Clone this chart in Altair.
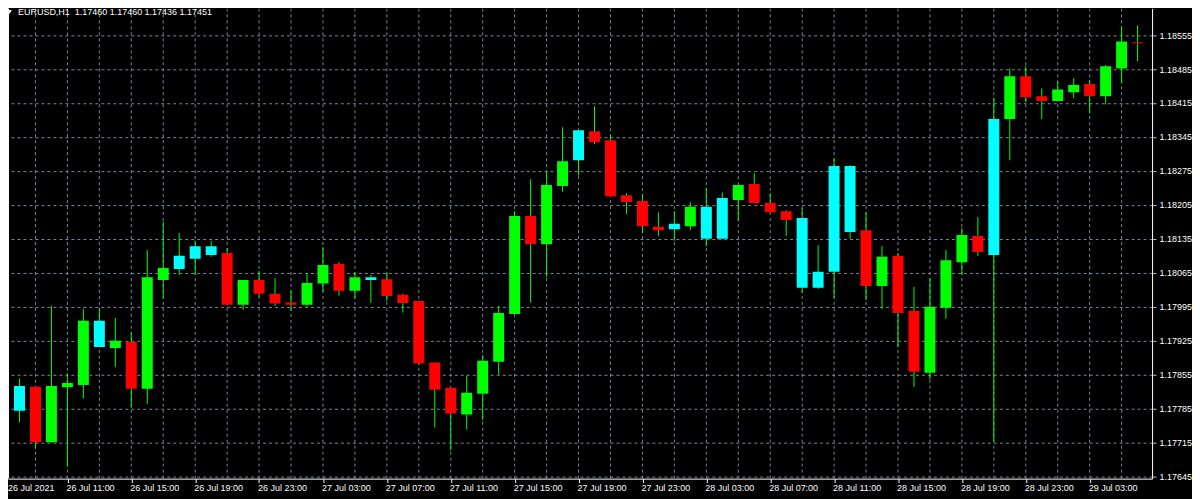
import altair as alt
import pandas as pd

# ---- candle data (EURUSD H1), one entry per hourly bar, 26 Jul 07:00 .. 29 Jul 06:00 ----
kinds = ["down", "alt", "down", "up", "up", "up", "alt", "up", "down", "up",
         "up", "alt", "alt", "alt", "down", "up", "down", "down", "down", "up",
         "up", "down", "up", "alt", "down", "down", "down", "down", "down", "up",
         "up", "up", "up", "down", "up", "up", "alt", "down", "down", "down",
         "down", "down", "alt", "up", "alt", "alt", "up", "down", "down", "down",
         "alt", "alt", "alt", "alt", "down", "up", "down", "down", "up", "up",
         "up", "down", "alt", "up", "down", "down", "up", "up", "down", "up",
         "up", "down"]
opens = [1.17785, 1.17781, 1.17830, 1.17716, 1.17829, 1.17834, 1.17966, 1.17910, 1.17923, 1.17826,
         1.18050, 1.18073, 1.18094, 1.18120, 1.18106, 1.17999, 1.18050, 1.18022, 1.18004, 1.17999,
         1.18043, 1.18083, 1.18028, 1.18056, 1.18052, 1.18020, 1.18007, 1.17880, 1.17828, 1.17773,
         1.17816, 1.17882, 1.17980, 1.18182, 1.18124, 1.18244, 1.18297, 1.18357, 1.18338, 1.18225,
         1.18213, 1.18160, 1.18155, 1.18161, 1.18201, 1.18135, 1.18215, 1.18248, 1.18209, 1.18192,
         1.18178, 1.18034, 1.18067, 1.18285, 1.18153, 1.18038, 1.18100, 1.17987, 1.17859, 1.17993,
         1.18087, 1.18141, 1.18102, 1.18382, 1.18470, 1.18429, 1.18419, 1.18437, 1.18454, 1.18429,
         1.18486, 1.18540]
highs = [1.17801, 1.17847, 1.17830, 1.17997, 1.17858, 1.17991, 1.17992, 1.17972, 1.17942, 1.18112,
         1.18170, 1.18147, 1.18131, 1.18131, 1.18116, 1.18050, 1.18069, 1.18054, 1.18028, 1.18064,
         1.18118, 1.18087, 1.18066, 1.18061, 1.18064, 1.18022, 1.18007, 1.17880, 1.17828, 1.17853,
         1.17895, 1.17997, 1.18192, 1.18258, 1.18273, 1.18365, 1.18359, 1.18408, 1.18350, 1.18229,
         1.18227, 1.18190, 1.18192, 1.18211, 1.18240, 1.18231, 1.18246, 1.18270, 1.18229, 1.18194,
         1.18198, 1.18122, 1.18301, 1.18287, 1.18190, 1.18120, 1.18106, 1.18036, 1.18054, 1.18112,
         1.18157, 1.18180, 1.18425, 1.18486, 1.18491, 1.18445, 1.18460, 1.18466, 1.18462, 1.18493,
         1.18573, 1.18575]
lows = [1.17760, 1.17757, 1.17703, 1.17716, 1.17666, 1.17806, 1.17912, 1.17871, 1.17787, 1.17795,
        1.18012, 1.18061, 1.18061, 1.18098, 1.17999, 1.17989, 1.18016, 1.17997, 1.17987, 1.17995,
        1.18026, 1.18018, 1.18012, 1.18003, 1.18007, 1.17983, 1.17875, 1.17746, 1.17699, 1.17742,
        1.17762, 1.17855, 1.17980, 1.18004, 1.18057, 1.18232, 1.18266, 1.18330, 1.18223, 1.18186,
        1.18147, 1.18141, 1.18131, 1.18153, 1.18120, 1.18135, 1.18172, 1.18209, 1.18190, 1.18141,
        1.18024, 1.18032, 1.18013, 1.18135, 1.18009, 1.17991, 1.17912, 1.17830, 1.17845, 1.17970,
        1.18061, 1.18100, 1.17717, 1.18297, 1.18417, 1.18382, 1.18419, 1.18425, 1.18394, 1.18412,
        1.18456, 1.18501]
closes = [1.17781, 1.17832, 1.17716, 1.17832, 1.17838, 1.17966, 1.17912, 1.17925, 1.17826, 1.18056,
          1.18075, 1.18100, 1.18120, 1.18102, 1.17999, 1.18050, 1.18022, 1.18002, 1.17999, 1.18044,
          1.18081, 1.18028, 1.18056, 1.18050, 1.18017, 1.18003, 1.17878, 1.17824, 1.17775, 1.17818,
          1.17884, 1.17982, 1.18182, 1.18124, 1.18246, 1.18295, 1.18359, 1.18334, 1.18223, 1.18211,
          1.18161, 1.18153, 1.18166, 1.18201, 1.18135, 1.18219, 1.18246, 1.18209, 1.18190, 1.18174,
          1.18034, 1.18067, 1.18285, 1.18149, 1.18038, 1.18098, 1.17982, 1.17861, 1.17995, 1.18091,
          1.18143, 1.18108, 1.18382, 1.18470, 1.18427, 1.18419, 1.18443, 1.18452, 1.18429, 1.18491,
          1.18542, 1.18538]

# ---- axis labels ----
x_label_pos = [0, 4, 8, 12, 16, 20, 24, 28, 32, 36, 40, 44, 48, 52, 56, 60, 64, 68]
x_labels = ["26 Jul 2021", "26 Jul 11:00", "26 Jul 15:00", "26 Jul 19:00", "26 Jul 23:00",
            "27 Jul 03:00", "27 Jul 07:00", "27 Jul 11:00", "27 Jul 15:00", "27 Jul 19:00",
            "27 Jul 23:00", "28 Jul 03:00", "28 Jul 07:00", "28 Jul 11:00", "28 Jul 15:00",
            "28 Jul 19:00", "28 Jul 23:00", "29 Jul 03:00"]
y_ticks = [1.17645, 1.17715, 1.17785, 1.17855, 1.17925, 1.17995, 1.18065,
           1.18135, 1.18205, 1.18275, 1.18345, 1.18415, 1.18485, 1.18555]
grid_k = list(range(0, 73, 2))
header = "EURUSD,H1\u00a0\u00a01.17460 1.17460 1.17436 1.17451"

# ---- layout ----
W, H = 1146, 471
X_DOM = [0.28125, 71.90625]
Y_DOM = [1.1764089, 1.1860994]
FONT = "Liberation Sans"
GRID = "#778899"

df = pd.DataFrame({"k": list(range(len(opens))), "open": opens, "high": highs,
                   "low": lows, "close": closes, "kind": kinds})

xs = alt.Scale(domain=X_DOM, nice=False, zero=False, padding=0)
ys = alt.Scale(domain=Y_DOM, nice=False, zero=False, padding=0)

x_axis = alt.Axis(values=x_label_pos, labels=False, ticks=True, tickColor="white",
                  tickSize=4, domain=True, domainColor="white", domainWidth=1,
                  grid=False, title=None)
y_axis = alt.Axis(orient="right", values=y_ticks, format=".5f", title=None,
                  labelFont=FONT, labelFontSize=9, labelColor="white",
                  labelPadding=3, labelOverlap=False, labelFlush=False,
                  labelSeparation=0, labelBound=False,
                  tickColor="#b8b8b8", tickSize=4, domain=True,
                  domainColor="white", domainWidth=1, grid=True,
                  gridColor=GRID, gridDash=[3, 3], gridWidth=1)

vgrid = alt.Chart(pd.DataFrame({"k": grid_k})).mark_rule(
    color=GRID, strokeDash=[3, 3], strokeWidth=1, clip=True
).encode(x=alt.X("k:Q", scale=xs, axis=x_axis))

wicks = alt.Chart(df).mark_rule(color="#00FF00", strokeWidth=1, clip=True).encode(
    x=alt.X("k:Q", scale=xs, axis=x_axis),
    y=alt.Y("low:Q", scale=ys, axis=y_axis),
    y2="high:Q",
)

bodies = alt.Chart(df).mark_bar(size=11, clip=True).encode(
    x=alt.X("k:Q", scale=xs, axis=x_axis),
    y=alt.Y("open:Q", scale=ys, axis=y_axis),
    y2="close:Q",
    color=alt.Color("kind:N",
                    scale=alt.Scale(domain=["up", "down", "alt"],
                                    range=["#00FF00", "#FF0000", "#00FFFF"]),
                    legend=None),
)

xlab = alt.Chart(pd.DataFrame({"k": x_label_pos, "label": x_labels})).transform_calculate(
    kx=f"max(datum.k, {X_DOM[0] + 0.0625})"
).mark_text(align="left", baseline="middle", dx=-1, font=FONT, fontSize=9,
            color="white").encode(
    x=alt.X("kx:Q", scale=xs, axis=x_axis),
    y=alt.value(H + 9),
    text="label:N",
)

title = alt.Chart(pd.DataFrame({"t": [header]})).mark_text(
    align="left", baseline="middle", font=FONT, fontSize=9, color="white"
).encode(x=alt.value(10), y=alt.value(4), text="t:N")

tri = alt.Chart(pd.DataFrame({"t": [header]})).mark_point(
    shape="triangle-down", filled=True, color="white", size=22, opacity=1
).encode(x=alt.value(1.5), y=alt.value(3.5))

left_border = alt.Chart(pd.DataFrame({"t": [0]})).mark_rule(
    color="white", strokeWidth=1
).encode(x=alt.value(0.5))

chart = alt.layer(vgrid, wicks, bodies, xlab, title, tri, left_border).properties(
    width=W, height=H,
    autosize=alt.AutoSizeParams(type="none"),
    padding={"left": 0, "top": 0, "right": 40, "bottom": 20},
    background="black",
).configure_view(strokeWidth=0).configure_axis(labelOverlap=False)

chart.save("out.html", embed_options={"renderer": "svg", "actions": False})
